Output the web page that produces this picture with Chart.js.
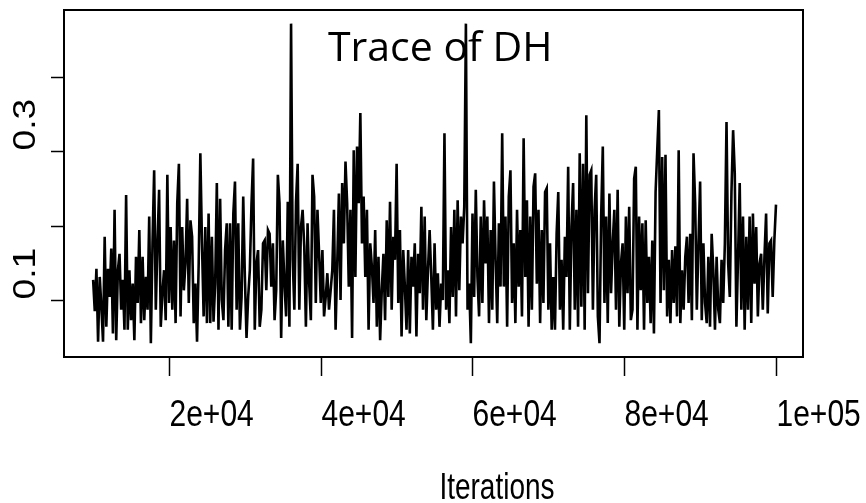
<!DOCTYPE html>
<html>
<head>
<meta charset="utf-8">
<script src="https://cdn.jsdelivr.net/npm/chart.js@4/dist/chart.umd.min.js"></script>
<style>
  html, body { margin: 0; padding: 0; background: #fff; }
  #wrap { width: 866px; height: 503px; }
</style>
</head>
<body>
<div id="wrap"><canvas id="traceChart" width="866" height="503"></canvas></div>
<script>
// MCMC trace of DH, thinned samples (iterations 1e4 .. 1e5)
const firstIter = 10000;
const lastIter = 100000;
const dhValues = [
  // 1e4 .. ~2.5e4
  0.127, 0.085, 0.142, 0.044, 0.131, 0.091, 0.044, 0.185, 0.064, 0.142, 0.104, 0.169, 0.055, 0.221, 0.046, 0.140,
  0.162, 0.087, 0.127, 0.060, 0.241, 0.060, 0.140, 0.073, 0.122, 0.046, 0.158, 0.096, 0.194, 0.069, 0.158, 0.073,
  0.131, 0.087, 0.212, 0.042, 0.176, 0.274, 0.087, 0.176, 0.248, 0.064, 0.109, 0.140, 0.073, 0.268, 0.096, 0.198,
  0.087, 0.180, 0.069, 0.230, 0.283, 0.078, 0.198, 0.113, 0.149, 0.236, 0.096, 0.207, 0.185, 0.069, 0.122, 0.044,
  0.149, 0.297, 0.176,
  // ~2.5e4 .. ~4e4
  0.078, 0.198, 0.069, 0.216, 0.069, 0.185, 0.071, 0.122, 0.257, 0.060, 0.236, 0.100, 0.073, 0.167, 0.203, 0.064,
  0.203, 0.060, 0.216, 0.259, 0.087, 0.203, 0.060, 0.104, 0.239, 0.131, 0.049, 0.104, 0.140, 0.228, 0.290, 0.060,
  0.149, 0.167, 0.064, 0.087, 0.176, 0.180, 0.113, 0.194, 0.189, 0.118, 0.176, 0.073, 0.113, 0.268, 0.230, 0.049,
  0.180, 0.122, 0.078, 0.232, 0.064, 0.471, 0.154, 0.087, 0.232, 0.283, 0.087, 0.198, 0.221, 0.172, 0.064, 0.203,
  0.122, 0.073, 0.268, 0.239, 0.096, 0.221,
  // ~4e4 .. ~5.5e4
  0.162, 0.096, 0.167, 0.078, 0.104, 0.136, 0.087, 0.113, 0.140, 0.221, 0.060, 0.149, 0.243, 0.100, 0.257, 0.176,
  0.286, 0.230, 0.118, 0.221, 0.049, 0.301, 0.131, 0.306, 0.230, 0.351, 0.176, 0.239, 0.131, 0.221, 0.060, 0.176,
  0.145, 0.096, 0.194, 0.064, 0.158, 0.046, 0.113, 0.162, 0.073, 0.207, 0.104, 0.232, 0.087, 0.185, 0.154, 0.283,
  0.096, 0.194, 0.051, 0.167, 0.118, 0.060, 0.167, 0.055, 0.158, 0.118, 0.176, 0.051, 0.162, 0.109, 0.225, 0.087,
  0.212, 0.073, 0.140, 0.194, 0.131, 0.060, 0.176,
  // ~5.5e4 .. ~7e4
  0.087, 0.136, 0.064, 0.122, 0.100, 0.324, 0.087, 0.140, 0.069, 0.198, 0.104, 0.221, 0.078, 0.234, 0.113, 0.212,
  0.176, 0.225, 0.471, 0.087, 0.122, 0.042, 0.216, 0.104, 0.248, 0.131, 0.078, 0.212, 0.096, 0.234, 0.149, 0.212,
  0.069, 0.194, 0.087, 0.259, 0.154, 0.069, 0.203, 0.118, 0.324, 0.118, 0.212, 0.064, 0.239, 0.274, 0.096, 0.176,
  0.069, 0.221, 0.118, 0.194, 0.078, 0.317, 0.131, 0.234, 0.064, 0.212, 0.087, 0.252, 0.270, 0.122, 0.221, 0.069,
  0.194, 0.096, 0.245, 0.250, 0.087, 0.176,
  // ~7e4 .. ~8.5e4
  0.060, 0.131, 0.060, 0.189, 0.245, 0.087, 0.154, 0.060, 0.185, 0.131, 0.279, 0.060, 0.198, 0.257, 0.087, 0.221,
  0.064, 0.297, 0.091, 0.283, 0.060, 0.348, 0.109, 0.268, 0.274, 0.087, 0.221, 0.268, 0.078, 0.042, 0.212, 0.306,
  0.096, 0.212, 0.069, 0.243, 0.109, 0.176, 0.221, 0.087, 0.248, 0.064, 0.149, 0.176, 0.060, 0.212, 0.109, 0.225,
  0.073, 0.087, 0.263, 0.279, 0.060, 0.212, 0.113, 0.203, 0.060, 0.207, 0.096, 0.158, 0.069, 0.180, 0.055, 0.245,
  0.301, 0.355, 0.096, 0.292, 0.113,
  // ~8.5e4 .. 1e5
  0.295, 0.078, 0.154, 0.069, 0.167, 0.096, 0.172, 0.078, 0.301, 0.069, 0.140, 0.087, 0.158, 0.185, 0.096, 0.189,
  0.073, 0.297, 0.230, 0.087, 0.176, 0.259, 0.073, 0.176, 0.096, 0.069, 0.158, 0.064, 0.189, 0.140, 0.060, 0.158,
  0.087, 0.069, 0.154, 0.096, 0.176, 0.339, 0.149, 0.104, 0.245, 0.328, 0.270, 0.064, 0.158, 0.257, 0.087, 0.212,
  0.060, 0.185, 0.087, 0.212, 0.069, 0.216, 0.122, 0.198, 0.078, 0.149, 0.162, 0.087, 0.158, 0.216, 0.082, 0.176,
  0.180, 0.104, 0.180, 0.228
];

const xTicks = [20000, 40000, 60000, 80000, 100000];
const xTickLabels = ['2e+04', '4e+04', '6e+04', '8e+04', '1e+05'];
const yTicks = [0.1, 0.2, 0.3, 0.4];
const yTickLabels = ['0.1', '', '0.3', ''];

const titleText = 'Trace of DH';
const xAxisTitle = 'Iterations';

// sample positions along the iteration axis
const step = (lastIter - firstIter) / (dhValues.length - 1);
const points = dhValues.map((v, i) => ({ x: firstIter + i * step, y: v }));

// R-style box, ticks and labels (the source picture is stretched vertically, so text is too)
const rAxes = {
  id: 'rAxes',
  afterDraw(chart) {
    const ctx = chart.ctx;
    const a = chart.chartArea;
    const xs = chart.scales.x;
    const ys = chart.scales.y;
    ctx.save();
    ctx.strokeStyle = '#000';
    ctx.fillStyle = '#000';
    ctx.lineWidth = 2;
    ctx.strokeRect(a.left, a.top, a.right - a.left, a.bottom - a.top);

    // x ticks
    ctx.lineWidth = 1.5;
    xTicks.forEach((t, i) => {
      const px = Math.round(xs.getPixelForValue(t)) + 0.5;
      ctx.beginPath();
      ctx.moveTo(px, a.bottom);
      ctx.lineTo(px, a.bottom + 19);
      ctx.stroke();
      ctx.save();
      ctx.translate(px, 426);
      ctx.scale(1, 1.25);
      ctx.font = '30px "Liberation Sans", Arial, sans-serif';
      ctx.textAlign = 'left';
      ctx.textBaseline = 'alphabetic';
      ctx.fillText(xTickLabels[i], 0, 0);
      ctx.restore();
    });

    // y ticks
    yTicks.forEach((t, i) => {
      const py = Math.round(ys.getPixelForValue(t)) + 0.5;
      ctx.beginPath();
      ctx.moveTo(a.left, py);
      ctx.lineTo(a.left - 13, py);
      ctx.stroke();
      if (!yTickLabels[i]) return;
      ctx.save();
      ctx.translate(35, py - 1);
      ctx.rotate(-Math.PI / 2);
      ctx.scale(1.2, 1);
      ctx.font = '31px "Liberation Sans", Arial, sans-serif';
      ctx.textAlign = 'left';
      ctx.textBaseline = 'alphabetic';
      ctx.fillText(yTickLabels[i], 0, 0);
      ctx.restore();
    });

    // axis title
    ctx.save();
    ctx.translate(497, 499);
    ctx.scale(1, 1.3);
    ctx.font = '28px "Liberation Sans", Arial, sans-serif';
    ctx.textAlign = 'center';
    ctx.textBaseline = 'alphabetic';
    ctx.fillText(xAxisTitle, 0, 0);
    ctx.restore();

    // main title sits inside the plot box
    ctx.font = '41px "Open Sans", sans-serif';
    ctx.textAlign = 'left';
    ctx.textBaseline = 'alphabetic';
    ctx.fillText(titleText, 328, 61);
    ctx.restore();
  }
};

new Chart(document.getElementById('traceChart').getContext('2d'), {
  type: 'line',
  data: {
    datasets: [{
      data: points,
      borderColor: '#000',
      borderWidth: 2.6,
      pointRadius: 0,
      tension: 0,
      fill: false
    }]
  },
  options: {
    responsive: false,
    animation: false,
    layout: { padding: { left: 64, top: 10, right: 63, bottom: 146 } },
    plugins: { legend: { display: false }, tooltip: { enabled: false } },
    scales: {
      x: { type: 'linear', min: 6161, max: 103559, display: false },
      y: { type: 'linear', min: 0.0235, max: 0.4893, display: false }
    }
  },
  plugins: [rAxes]
});
</script>
</body>
</html>
